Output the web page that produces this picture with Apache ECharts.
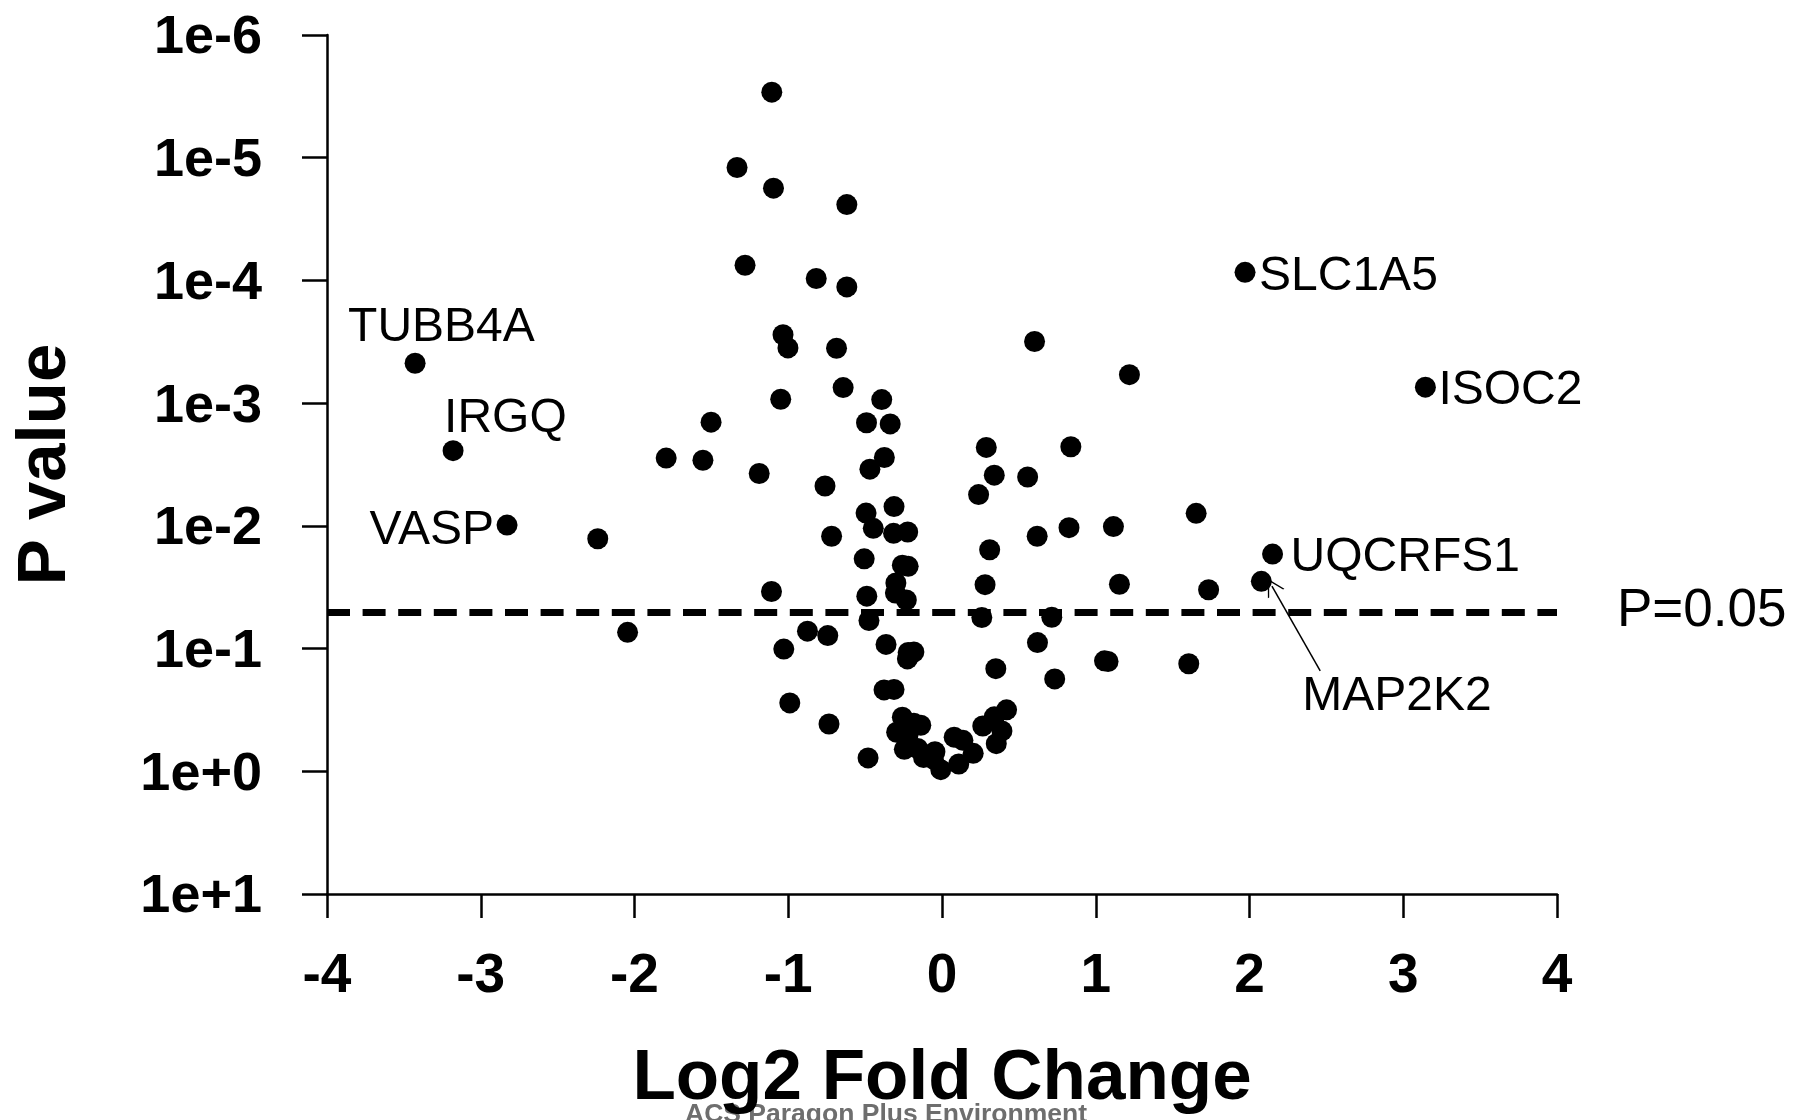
<!DOCTYPE html>
<html>
<head>
<meta charset="utf-8">
<title>Volcano plot</title>
<script src="https://cdn.jsdelivr.net/npm/echarts@6/dist/echarts.min.js"></script>
<style>
  html, body { margin: 0; padding: 0; background: #fff; }
  #chart { width: 1796px; height: 1120px; }
</style>
</head>
<body>
<div id="chart"></div>
<script>
// x = log2 fold change, y = -log10(p)
const log2FC = [
  -1.107, -1.333, -1.096, -0.619, -1.281, -0.818, -0.619, -1.034, -1.002, -0.686,
  0.602, 1.219, -0.643, -1.049, -0.392, -1.502, -0.491, -0.337, 0.288, 0.838,
  -1.794, -1.555, -0.375, -0.469, -1.189, 0.340, 0.557, -0.761, 0.238, -0.312,
  -0.494, -0.447, -0.315, -0.223, -0.718, 0.619, 0.826, 1.115, 1.653, -2.239,
  0.310, -0.506, -0.258, -0.220, 0.280, 1.154, -1.109, -0.300, -0.303, -0.489,
  -0.232, 1.734, -0.475, 0.259, 0.714, -2.045, -0.875, -0.743, -1.029, -0.364,
  -0.220, -0.183, -0.225, 0.621, 1.057, 1.080, 1.605, 0.350, 0.733, -0.377,
  -0.312, -0.990, 0.420, 0.340, -0.258, -0.138, -0.183, 0.265, -0.735, 0.390,
  -0.295, -0.220, 0.079, 0.136, 0.353, -0.245, -0.158, -0.046, 0.203, -0.120,
  -0.481, 0.109, -0.008, -0.056
];
const negLogP = [
  5.534, 4.920, 4.752, 4.618, 4.124, 4.016, 3.947, 3.557, 3.450, 3.447,
  3.502, 3.232, 3.127, 3.032, 3.029, 2.845, 2.840, 2.831, 2.639, 2.645,
  2.552, 2.535, 2.557, 2.462, 2.427, 2.413, 2.398, 2.325, 2.255, 2.157,
  2.104, 1.980, 1.939, 1.950, 1.915, 1.915, 1.985, 1.994, 2.102, 1.895,
  1.805, 1.731, 1.680, 1.670, 1.521, 1.524, 1.465, 1.535, 1.452, 1.427,
  1.396, 1.479, 1.229, 1.253, 1.255, 1.132, 1.142, 1.106, 0.996, 1.034,
  0.968, 0.972, 0.916, 1.049, 0.900, 0.895, 0.876, 0.836, 0.753, 0.663,
  0.667, 0.557, 0.501, 0.444, 0.441, 0.375, 0.392, 0.369, 0.385, 0.329,
  0.318, 0.302, 0.278, 0.252, 0.225, 0.179, 0.186, 0.159, 0.146, 0.112,
  0.109, 0.059, 0.013, 0.099
];

// labelled proteins
const geneNames = ['TUBB4A', 'IRGQ', 'VASP', 'SLC1A5', 'ISOC2', 'UQCRFS1', 'MAP2K2'];
const geneFC = [-3.427, -3.180, -2.829, 1.971, 3.144, 2.150, 2.077];
const geneNegLogP = [3.325, 2.613, 2.006, 4.066, 3.130, 1.770, 1.548];

// arrow from the MAP2K2 label to its point: [start, end] in axis units
const arrowStart = [2.46, 0.818];
const arrowEnd = [2.146, 1.509];

const xTicks = [-4, -3, -2, -1, 0, 1, 2, 3, 4];
const yTicks = [-1, 0, 1, 2, 3, 4, 5, 6];
const pCutoff = 0.05;

// where each gene label sits relative to its dot (pixels)
const labelPlace = {
  TUBB4A: { dx: -67, dy: -35, align: 'left' },
  IRGQ: { dx: -9, dy: -32, align: 'left' },
  VASP: { dx: -13, dy: 6, align: 'right' },
  SLC1A5: { dx: 14, dy: 4, align: 'left' },
  ISOC2: { dx: 13, dy: 4, align: 'left' },
  UQCRFS1: { dx: 18, dy: 4, align: 'left' },
  MAP2K2: { dx: 41, dy: 115, align: 'left' }
};

const FONT = '"Liberation Sans", Arial, sans-serif';
const DOT = 21;

function pLabel(v) {
  return '{v|' + (v > 0 ? '1e-' + v : '1e+' + (-v)) + '}';
}

const points = log2FC.map((x, i) => [x, negLogP[i]]);
const genePoints = geneNames.map((name, i) => {
  const p = labelPlace[name];
  return {
    name: name,
    value: [geneFC[i], geneNegLogP[i]],
    label: {
      position: [p.dx + DOT / 2, p.dy + DOT / 2],
      align: p.align,
      verticalAlign: 'middle'
    }
  };
});

const chart = echarts.init(document.getElementById('chart'), null, { renderer: 'canvas' });

const option = {
  backgroundColor: '#ffffff',
  animation: false,
  grid: { left: 327, right: 239, top: 35, bottom: 225 },
  xAxis: {
    type: 'value',
    min: xTicks[0],
    max: xTicks[xTicks.length - 1],
    interval: 1,
    name: 'Log2 Fold Change',
    nameLocation: 'middle',
    nameGap: 150,
    nameTextStyle: { color: '#000', fontFamily: FONT, fontWeight: 'bold', fontSize: 71 },
    axisLine: { onZero: false, lineStyle: { color: '#000', width: 2.5 } },
    axisTick: { inside: false, length: 24, lineStyle: { color: '#000', width: 2.5 } },
    axisLabel: { color: '#000', fontFamily: FONT, fontWeight: 'bold', fontSize: 55, margin: 55 },
    splitLine: { show: false }
  },
  yAxis: {
    type: 'value',
    min: yTicks[0],
    max: yTicks[yTicks.length - 1],
    interval: 1,
    name: 'P value',
    nameLocation: 'middle',
    nameRotate: 90,
    nameGap: 247,
    nameTextStyle: { color: '#000', fontFamily: FONT, fontWeight: 'bold', fontSize: 69 },
    axisLine: { onZero: false, lineStyle: { color: '#000', width: 2.5 } },
    axisTick: { inside: false, length: 25, lineStyle: { color: '#000', width: 2.5 } },
    axisLabel: {
      color: '#000', fontFamily: FONT, fontWeight: 'bold', fontSize: 54, margin: 65,
      formatter: pLabel,
      rich: {
        v: {
          color: '#000', fontFamily: FONT, fontWeight: 'bold', fontSize: 54,
          padding: [7, 0, 0, 0]
        }
      }
    },
    splitLine: { show: false }
  },
  series: [
    {
      type: 'scatter',
      symbol: 'circle',
      symbolSize: DOT,
      itemStyle: { color: '#000', opacity: 1 },
      data: points,
      markLine: {
        silent: true,
        symbol: ['none', 'none'],
        lineStyle: { color: '#000', width: 7, type: [23, 12.6], opacity: 1 },
        label: {
          show: true,
          position: 'end',
          distance: 60,
          padding: [7, 0, 0, 0],
          formatter: 'P=' + pCutoff.toFixed(2),
          color: '#000',
          fontFamily: FONT,
          fontSize: 53
        },
        data: [{ yAxis: -Math.log10(pCutoff) }]
      }
    },
    {
      type: 'scatter',
      symbol: 'circle',
      symbolSize: DOT,
      itemStyle: { color: '#000', opacity: 1 },
      label: {
        show: true,
        formatter: '{b}',
        color: '#000',
        fontFamily: FONT,
        fontSize: 48
      },
      data: genePoints,
      markLine: {
        silent: true,
        symbol: ['none', 'path://M10,0 L20,18 L18.4,18 L10,3 L1.6,18 L0,18 Z'],
        symbolSize: [19, 17],
        lineStyle: { color: '#000', width: 1.5, type: 'solid', opacity: 1 },
        label: { show: false },
        data: [[{ coord: arrowStart }, { coord: arrowEnd }]]
      }
    }
  ],
  graphic: [
    {
      type: 'text',
      left: 685,
      top: 1101,
      style: {
        text: 'ACS Paragon Plus Environment',
        fill: '#6e6e6e',
        font: 'bold 26.5px ' + FONT
      }
    }
  ]
};

chart.setOption(option);
</script>
</body>
</html>
